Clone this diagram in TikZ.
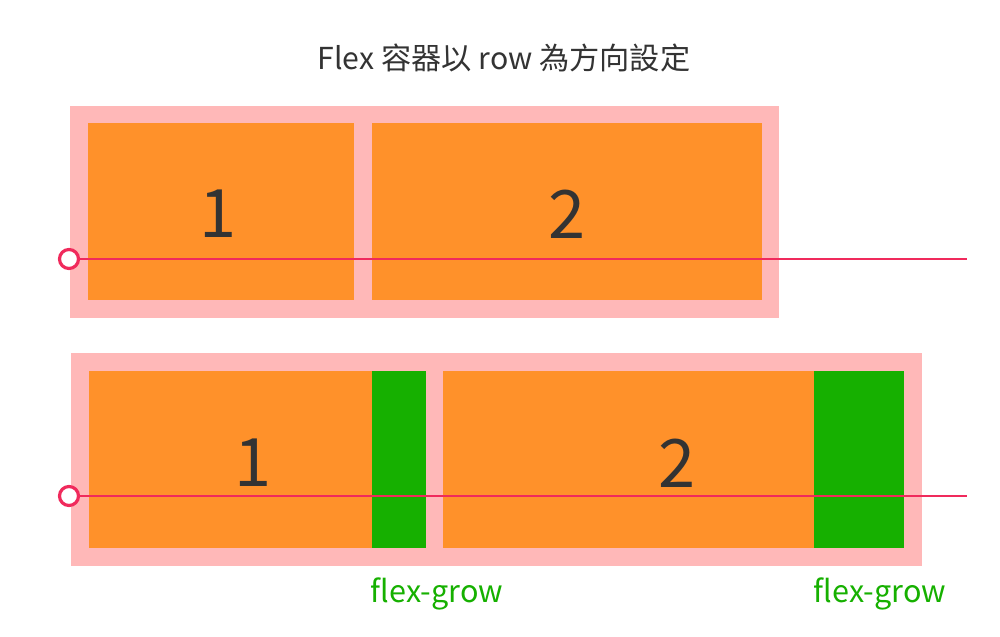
\documentclass[tikz,border=0pt]{standalone}
\usepackage{fontspec}
\setmainfont{Noto Sans CJK TC}
\usepackage{tikz}
\usetikzlibrary{positioning}
\definecolor{boxpink}{HTML}{FFB8B8}
\definecolor{itemorange}{HTML}{FF912A}
\definecolor{growgreen}{HTML}{16B000}
\definecolor{axisred}{HTML}{F02A5C}
\definecolor{textgray}{HTML}{333333}

\begin{document}
\begin{tikzpicture}[x=0.1mm, y=-0.1mm,
	container/.style={fill=boxpink},
	item/.style={fill=itemorange},
	growpart/.style={fill=growgreen},
	digit/.style={text=textgray, font=\fontsize{19}{19}\selectfont},
	growlabel/.style={text=growgreen, font=\fontsize{8.7}{9}\selectfont},
	axis/.style={draw=axisred, line width=0.65pt},
	origin/.style={circle, draw=axisred, line width=0.9pt, fill=white, inner sep=0pt, minimum size=1.9mm}
]
	\useasboundingbox (0,0) rectangle (1000,637);

	% title
	\node[text=textgray, font=\fontsize{8.6}{9}\selectfont] (title) at (504,58) {Flex 容器以 row 為方向設定};

	% top: flex container
	\fill[container] (70,106) rectangle (779,318);
	\fill[item] (88,123) rectangle (354,300);
	\fill[item] (372,123) rectangle (762,300);
	\node[digit] (t1) at (218,214) {1};
	\node[digit] (t2) at (567,214) {2};
	\coordinate (tend) at (967,259);
	\node[origin] (to) at (69,259) {};
	\draw[axis] (to.east) -- (tend);

	% bottom: items with flex-grow
	\fill[container] (71,353) rectangle (922,566);
	\fill[item] (89,371) rectangle (372,548);
	\fill[growpart] (372,371) rectangle (426,548);
	\fill[item] (443,371) rectangle (814,548);
	\fill[growpart] (814,371) rectangle (904,548);
	\node[digit] (b1) at (253,463) {1};
	\node[digit] (b2) at (677,463) {2};
	\coordinate (bend) at (967,496);
	\node[origin] (bo) at (69,496) {};
	\draw[axis] (bo.east) -- (bend);

	\node[growlabel] (g1) at (437,594) {flex-grow};
	\node[growlabel] (g2) at (880,594) {flex-grow};
\end{tikzpicture}
\end{document}
